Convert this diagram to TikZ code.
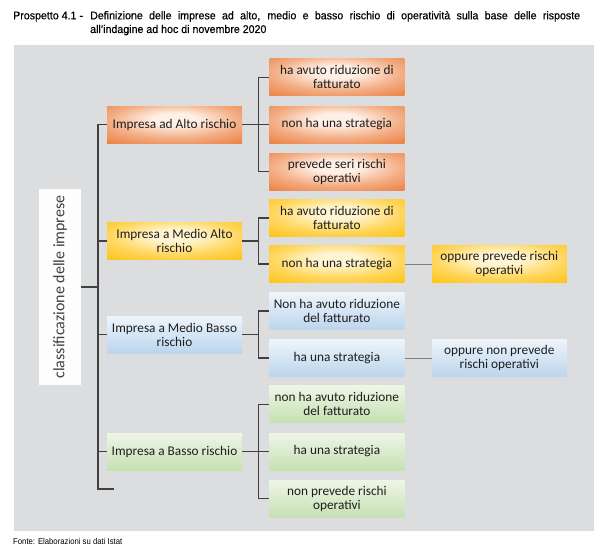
\documentclass[tikz,border=0pt]{standalone}
\usepackage{fontspec}
\setmainfont{Carlito}
\newfontfamily\titlefont{Liberation Sans}[FakeStretch=0.95, FakeBold=0.5]
\newfontfamily\notefont{Liberation Sans}[FakeStretch=0.9]
\usepackage{xcolor}
\usetikzlibrary{positioning}
\definecolor{panel}{RGB}{220,221,223}
\definecolor{linegray}{RGB}{64,64,64}
\definecolor{softline}{RGB}{128,128,128}
\definecolor{txt}{RGB}{30,30,30}
\definecolor{orgA}{RGB}{233,118,52}
\definecolor{orgL}{RGB}{255,240,230}
\colorlet{orgM}{orgL!45!orgA}
\definecolor{ylwA}{RGB}{255,190,0}
\definecolor{ylwL}{RGB}{255,245,210}
\colorlet{ylwM}{ylwL!45!ylwA}
\definecolor{bluT}{RGB}{238,245,251}
\definecolor{bluB}{RGB}{188,213,237}
\definecolor{grnT}{RGB}{238,246,231}
\definecolor{grnB}{RGB}{198,224,178}
\pgfdeclareradialshading{orangeglow}{\pgfpoint{0bp}{8bp}}{color(0bp)=(orgL); color(8bp)=(orgL); color(24bp)=(orgM); color(42bp)=(orgA); color(80bp)=(orgA)}
\pgfdeclareradialshading{yellowglow}{\pgfpoint{0bp}{8bp}}{color(0bp)=(ylwL); color(8bp)=(ylwL); color(24bp)=(ylwM); color(42bp)=(ylwA); color(80bp)=(ylwA)}
\tikzset{
  box/.style={rectangle, minimum width=135pt, minimum height=37pt, inner sep=1pt,
    align=center, text=txt, font=\fontsize{13.3}{14}\selectfont},
  alto/.style={box, shade, shading=orangeglow},
  medioalto/.style={box, shade, shading=yellowglow},
  mediobasso/.style={box, top color=bluT, bottom color=bluB},
  basso/.style={box, top color=grnT, bottom color=grnB},
  classbox/.style={rectangle, minimum width=196pt, minimum height=42pt, rotate=90,
    fill=white!94!panel, text=linegray, font=\fontsize{16}{18}\selectfont},
  link/.style={draw=linegray, line width=1.1pt},
  sidelink/.style={draw=softline, line width=0.9pt},
  ttl/.style={inner sep=0pt, font=\titlefont\fontsize{11.2}{13}\selectfont},
}

\begin{document}
\begin{tikzpicture}[x=1pt, y=-1pt, node distance=10pt and 27pt]
  \useasboundingbox (0,0) rectangle (600,551);
  \fill[panel] (14,45) rectangle (594,531);

  \node[ttl, anchor=base west] (pnum) at (13,19.3) {Prospetto 4.1 -};
  \node[ttl, anchor=base west] (tline1) at (90,19.3) {\makebox[490pt][s]{Definizione delle imprese ad alto, medio e basso rischio di operatività sulla base delle risposte}};
  \node[ttl, anchor=base west] (tline2) at (90,33) {all’indagine ad hoc di novembre 2020};
  \node[inner sep=0pt, font=\notefont\fontsize{8.6}{10}\selectfont, anchor=base west] (fonte) at (13,544) {Fonte: Elaborazioni su dati Istat};

  \node[classbox] (cls) at (60,287) {classificazione delle imprese};

  % rischio
  \node[alto] (A) at (174.5,124.5) {Impresa ad Alto rischio};
  \node[medioalto] (MA) at (174.5,241) {Impresa a Medio Alto\\rischio};
  \node[mediobasso] (MB) at (174.5,334.5) {Impresa a Medio Basso\\rischio};
  \node[basso] (B) at (174.5,451.5) {Impresa a Basso rischio};

  % condizioni
  \node[alto, right=of A] (A2) {non ha una strategia};
  \node[alto, above=of A2] (A1) {ha avuto riduzione di\\fatturato};
  \node[alto, below=of A2] (A3) {prevede seri rischi\\operativi};
  \node[medioalto, right=of MA, yshift=23pt] (MA1) {ha avuto riduzione di\\fatturato};
  \node[medioalto, right=of MA, yshift=-23pt] (MA2) {non ha una strategia};
  \node[medioalto, right=of MA2] (MA3) {oppure prevede rischi\\operativi};
  \node[mediobasso, right=of MB, yshift=23.5pt] (MB1) {Non ha avuto riduzione\\del fatturato};
  \node[mediobasso, right=of MB, yshift=-23.5pt] (MB2) {ha una strategia};
  \node[mediobasso, right=of MB2] (MB3) {oppure non prevede\\rischi operativi};
  \node[basso, right=of B] (B2) {ha una strategia};
  \node[basso, above=of B2] (B1) {non ha avuto riduzione\\del fatturato};
  \node[basso, below=of B2] (B3) {non prevede rischi\\operativi};

  \coordinate (bustop) at (98,124.5);
  \coordinate (busend) at (114,489);
  \draw[link] (A.west) -- (bustop) |- (busend);
  \foreach \n in {MA, MB, B} \draw[link] (\n.west) -- (\n.west -| bustop);
  \draw[link] (cls.south) -- (cls.south -| bustop);

  \foreach \p/\f/\l in {A/A1/A3, MA/MA1/MA2, MB/MB1/MB2, B/B1/B3}{
    \draw[link] (\p.east) -- ++(16,0);
    \draw[link] (\f.west) -- ++(-11,0) |- (\l.west);
  }
  \draw[link] (A.east) -- (A2.west);
  \draw[link] (B.east) -- (B2.west);
  \draw[sidelink] (MA2) -- (MA3);
  \draw[sidelink] (MB2) -- (MB3);
\end{tikzpicture}
\end{document}
